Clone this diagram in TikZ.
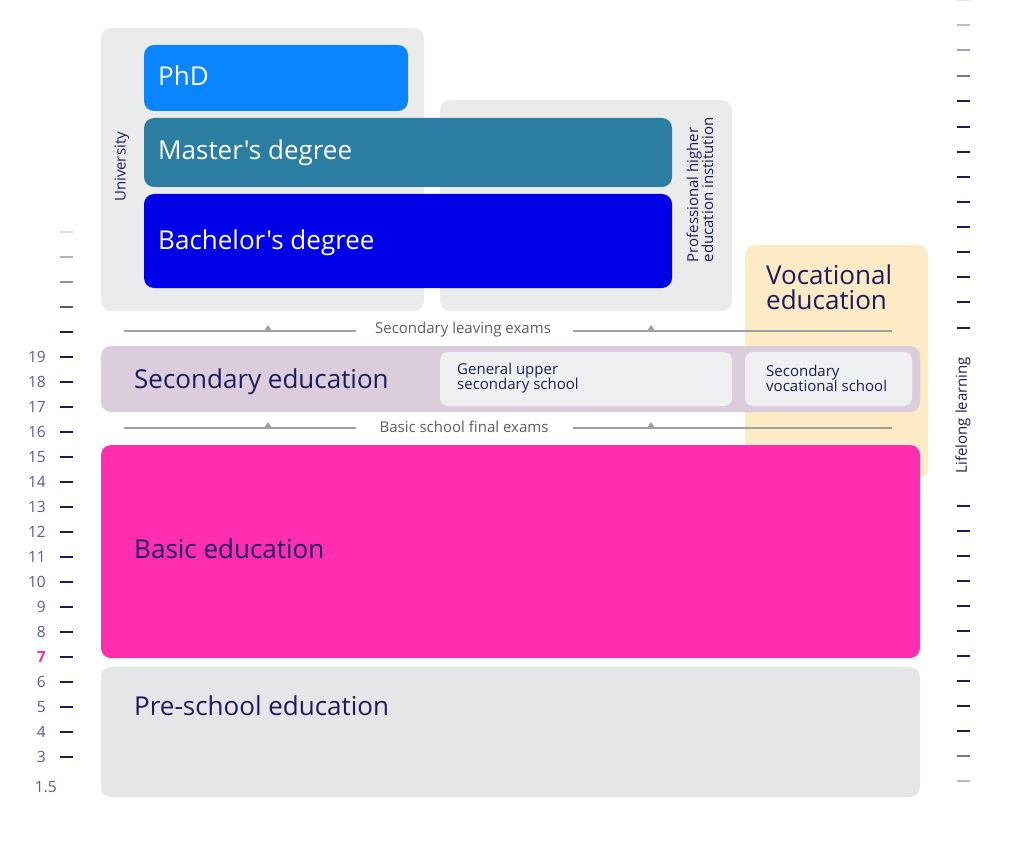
\documentclass[tikz,border=0pt]{standalone}
\usepackage{fontspec}
\setmainfont{Open Sans}[Ligatures=TeXOff]
\definecolor{boxgray}{HTML}{EBEBEB}
\definecolor{phd}{HTML}{0A84FF}
\definecolor{master}{HTML}{2B7DA1}
\definecolor{bach}{HTML}{0000E8}
\definecolor{voc}{HTML}{FCEBC4}
\definecolor{sec}{HTML}{DBCDDC}
\definecolor{inner}{HTML}{EFF0F2}
\definecolor{basic}{HTML}{FF2DB0}
\definecolor{pre}{HTML}{E6E6E8}
\definecolor{navy}{HTML}{1B1B5E}
\definecolor{numc}{HTML}{5A5AA0}
\definecolor{exline}{HTML}{A0A0A0}
\definecolor{extext}{HTML}{5E5E5E}
\tikzset{
  area/.style={draw=none, rounded corners=10pt, inner sep=0pt, outer sep=0pt, anchor=north west},
  smallarea/.style={area, rounded corners=8pt},
  big/.style={font=\fontsize{26}{25}\selectfont, text=navy, inner sep=0pt, anchor=west, align=left},
  bigw/.style={big, text=white},
  small/.style={font=\fontsize{15}{15}\selectfont, text=navy, inner sep=0pt, align=left},
  exam/.style={font=\fontsize{15}{15}\selectfont, text=extext, inner sep=0pt},
  exln/.style={draw=exline, line width=1.2pt},
  tri/.style={fill=exline, draw=none},
  num/.style={font=\fontsize{15.5}{16}\selectfont, text=numc, inner sep=0pt, anchor=east},
  tick/.style={line width=2.4pt}
}
\begin{document}
\begin{tikzpicture}[x=1pt,y=-1pt]
\useasboundingbox (0,0) rectangle (1024,842);
% higher education areas
\node[area, fill=boxgray, minimum width=323pt, minimum height=283pt] (uni) at (101,28) {};
\node[area, fill=boxgray, minimum width=292pt, minimum height=211pt] (prof) at (440,100) {};
\node[area, fill=voc, minimum width=183pt, minimum height=233pt] (voc) at (745,245) {};
\node[area, fill=phd, minimum width=264pt, minimum height=66pt] (phd) at (144,45) {};
\node[area, fill=master, minimum width=528pt, minimum height=69pt] (master) at (144,118) {};
\node[area, fill=bach, minimum width=528pt, minimum height=94pt] (bach) at (144,194) {};
\node[bigw] (phdt) at (158,76) {PhD};
\node[bigw] (mastert) at (158,153) {Master's degree};
\node[bigw] (bacht) at (158,243) {Bachelor's degree};
\node[small, rotate=90] (unit) at (122,167) {University};
\node[small, rotate=90] (proft) at (700,190) {Professional higher\\education institution};
\node[big] (voct) at (766,287) {Vocational\\education};
% secondary
\node[area, fill=sec, minimum width=819pt, minimum height=66pt] (sec) at (101,346) {};
\node[smallarea, fill=inner, minimum width=292pt, minimum height=54pt] (gen) at (440,352) {};
\node[smallarea, fill=inner, minimum width=167pt, minimum height=54pt] (svs) at (745,352) {};
\node[big] (sect) at (134,382) {Secondary education};
\node[small, anchor=west] (gent) at (457,378) {General upper\\secondary school};
\node[small, anchor=west] (svst) at (766,378) {Secondary\\vocational school};
% exam lines
\node[exam] (sle) at (463,330) {Secondary leaving exams};
\coordinate (sl1) at (124,331); \coordinate (sl2) at (356,331);
\coordinate (sl3) at (573,331); \coordinate (sl4) at (892,331);
\draw[exln] (sl1) -- (sl2);
\draw[exln] (sl3) -- (sl4);
\fill[tri] (264,331) -- (268,325) -- (272,331) -- cycle;
\fill[tri] (647,331) -- (651,325) -- (655,331) -- cycle;
\node[exam] (bsf) at (464,427) {Basic school final exams};
\coordinate (bs1) at (124,428); \coordinate (bs2) at (356,428);
\coordinate (bs3) at (573,428); \coordinate (bs4) at (892,428);
\draw[exln] (bs1) -- (bs2);
\draw[exln] (bs3) -- (bs4);
\fill[tri] (264,428) -- (268,422) -- (272,428) -- cycle;
\fill[tri] (647,428) -- (651,422) -- (655,428) -- cycle;
% basic & preschool
\node[area, fill=basic, minimum width=819pt, minimum height=213pt] (basic) at (101,445) {};
\node[area, fill=pre, minimum width=819pt, minimum height=130pt] (pre) at (101,667) {};
\node[big] (basict) at (134,549) {Basic education};
\node[big] (pret) at (134,706) {Pre-school education};
% left axis
\foreach \y/\c in {232/15,257/35,282/50,307/75}{
  \draw[tick, draw=navy!\c] (60,\y) -- (73,\y);
}
\foreach \n [count=\i from 0] in {19,18,...,3}{
  \pgfmathsetmacro{\yy}{357+25*\i}
  \draw[tick, draw=navy] (60,\yy) -- (73,\yy);
  \ifnum\n=7
    \node[num, text=basic, font=\fontsize{15.5}{16}\selectfont\bfseries] (n\n) at (46,\yy) {\n};
  \else
    \node[num] (n\n) at (46,\yy) {\n};
  \fi
}
\draw[tick, draw=navy] (60,332) -- (73,332);
\node[num] (n15h) at (57,787) {1.5};
% right axis
\foreach \y/\c in {0/12,25/30,50/40,76/60}{
  \draw[tick, draw=navy!\c] (957,\y) -- (970,\y);
}
\foreach \y in {101,127,152,177,202,227,252,277,302,328,506,531,556,581,606,631,656,681,706,731}{
  \draw[tick, draw=navy] (957,\y) -- (970,\y);
}
\draw[tick, draw=navy!60] (957,756) -- (970,756);
\draw[tick, draw=navy!30] (957,781) -- (970,781);
\node[small, rotate=90] (lll) at (963,415) {Lifelong learning};
\end{tikzpicture}
\end{document}
